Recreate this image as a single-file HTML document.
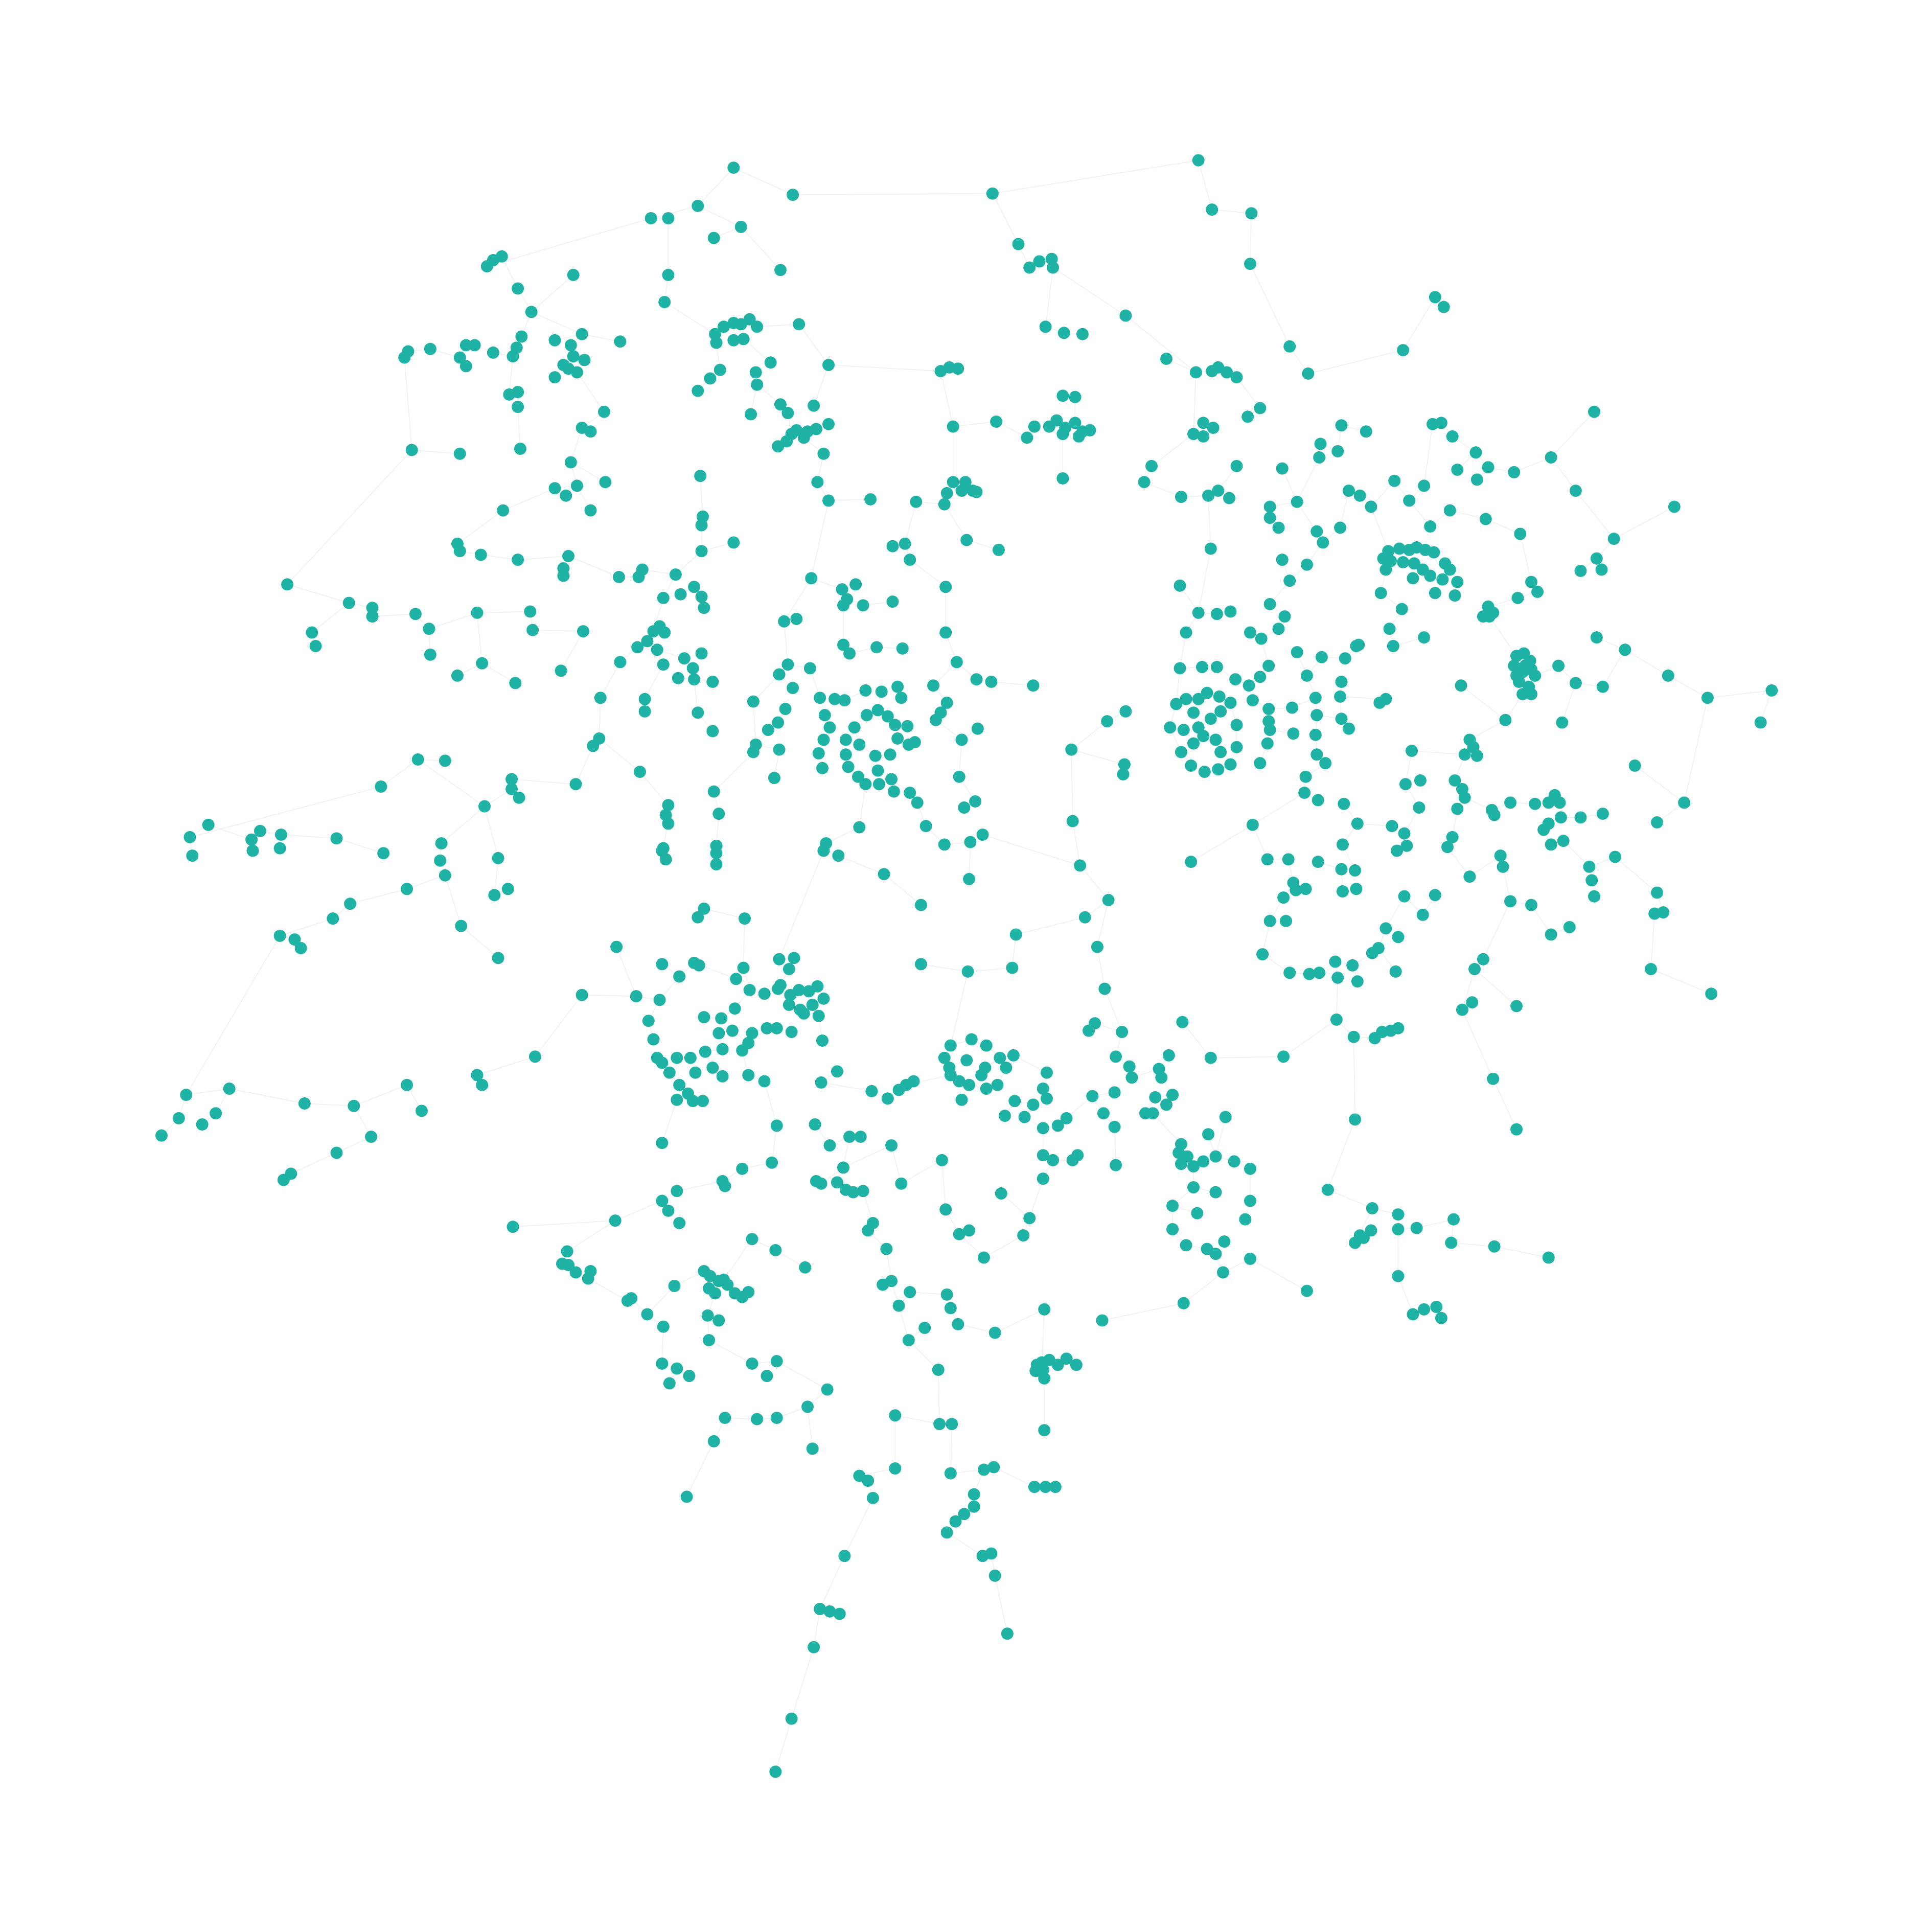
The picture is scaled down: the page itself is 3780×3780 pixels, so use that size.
<!DOCTYPE html>
<html><head><meta charset="utf-8">
<style>
html,body{margin:0;padding:0;background:#fff;}
svg{display:block;}
</style></head>
<body>
<svg id="chart" width="3780" height="3780" viewBox="0 0 3780 3780" xmlns="http://www.w3.org/2000/svg">
<rect width="3780" height="3780" fill="#ffffff"/>
<g id="edges"></g>
<g id="nodes"></g>
</svg>
<script>
const layoutUnits = 1567;
const nodeLayout = [
[595,136],[643,158],[566,167],[528,177],[542,177],[601,184],[579,193],[542,223],[539,245],[633,219],[805,157],[972,130],[983,170],[1015,173],[1014,214],[826,198],[835,217],[843,212],[853,210],[854,217],[913,256],[848,265],[863,270],[878,271],[1046,281],[1061,303],[1138,284],[1164,241],[1171,249],
[395,216],[400,211],[407,208],[420,234],[431,253],[465,223],[472,271],[450,276],[463,280],[465,289],[474,292],[457,296],[450,306],[468,302],[461,299],[503,277],[423,273],[419,282],[416,289],[400,286],[385,280],[378,280],[373,290],[378,297],[349,283],[331,285],[328,290],[413,320],[420,318],[420,330],[490,334],[472,347],[479,350],[463,375],[491,391],[468,394],[450,396],[459,402],[479,414],[408,414],[334,365],[373,368],[422,364],
[580,271],[587,265],[595,262],[601,263],[608,259],[614,265],[603,275],[595,276],[581,278],[625,294],[613,302],[614,312],[584,300],[576,307],[566,317],[609,336],[648,263],[672,296],[660,329],[633,328],[639,335],[642,352],[631,362],[638,358],[652,355],[646,349],[655,350],[662,348],[672,344],[668,368],[663,391],[672,406],
[763,301],[770,298],[777,299],[773,346],[808,342],[833,355],[839,346],[851,346],[857,341],[864,347],[872,343],[878,350],[884,349],[875,354],[862,352],[872,322],[862,321],[862,388],
[773,391],[783,391],[789,398],[768,400],[766,409],[780,398],[792,399],[706,405],[743,407],[784,438],[810,446],[734,441],[724,443],[738,454],[767,476],[767,513],[776,537],[658,469],[683,478],[694,474],[687,486],[700,491],[684,491],[724,488],[636,504],[646,502],[684,523],[689,530],[711,525],[732,526],[639,539],[632,547],[657,542],[665,566],[669,580],[677,567],[673,590],[685,568],[702,560],[715,561],[728,557],[731,566],[712,576],[703,580],[720,581],[726,588],[736,589],[693,590],[697,604],[686,600],[668,600],[664,611],[667,623],[686,612],[688,622],[696,630],[710,613],[722,612],[728,599],[737,604],[742,602],[712,625],[702,636],[713,636],[723,632],[738,643],[744,651],[725,642],[751,670],[766,685],[757,556],[768,570],[759,584],[763,578],[780,600],[793,591],[792,551],[804,553],[838,556],[778,630],[791,650],[782,655],[787,683],[797,677],[786,713],[697,671],[670,684],[668,690],[680,694],[717,709],
[970,302],[983,301],[988,298],[995,302],[1003,306],[968,352],[976,343],[984,347],[976,354],[1022,331],[1012,338],[946,291],[934,378],[928,391],[958,403],[980,402],[988,398],[997,404],[982,445],[1003,378],[972,497],[987,498],[998,496],[957,475],[962,513],
[957,542],[975,541],[987,541],[954,571],[949,590],[958,610],[966,621],[977,626],[988,624],[998,620],[1003,606],[1003,588],[998,570],[989,565],[979,562],[972,567],[962,567],[968,578],[960,592],[972,590],[982,583],[990,577],[986,600],[976,597],[990,610],[968,603],[1002,551],[1013,556],[1022,549],[1029,540],[1016,568],[1029,575],[1029,585],[1030,592],[1028,603],[1022,619],[1048,574],[1049,595],[1067,566],[1068,580],[1067,596],[1068,612],[1075,619],[1088,583],[1094,591],[1087,565],[1088,553],[1060,548],[1052,529],[1072,533],[1091,534],[1102,523],[1023,518],[1037,510],[1042,500],[1030,490],[1046,471],[1040,454],[1060,458],[1073,440],[1087,428],[1052,407],[1030,411],[1030,420],[1037,428],[1068,431],[1070,371],[1071,360],[1085,366],[1088,345],[1108,350],[1094,398],[1103,402],[1112,411],[1131,390],[1143,406],[1155,394],[1160,427],[1176,414],[1040,380],[1014,513],
[1126,447],[1135,445],[1143,446],[1149,444],[1156,446],[1163,448],[1172,457],[1176,462],[1170,470],[1160,467],[1154,462],[1147,457],[1138,456],[1128,455],[1122,453],[1124,462],[1146,469],[1164,481],[1182,472],[1180,483],[1120,481],[1137,494],[1127,510],[1130,524],[1100,524],[1155,517],[1162,344],[1169,343],[1178,354],[1197,367],[1207,379],[1182,381],[1198,389],[1205,421],[1228,383],[1258,371],[1233,433],[1242,472],[1247,480],[1231,485],[1278,398],[1293,334],[1207,492],[1211,497],[1203,500],[1208,500],[1309,437],[1295,453],[1299,462],[1282,463],[1358,411],
[1230,532],[1236,530],[1241,536],[1228,540],[1235,545],[1242,543],[1232,553],[1240,557],[1235,563],[1242,563],[1245,548],[1230,548],[1237,540],[1264,540],[1278,554],[1300,557],[1318,527],[1295,517],[1353,548],[1385,566],[1437,560],[1428,586],[1366,651],[1326,621],[1267,586],[1221,584],[1185,556],[1124,567],[1119,570],
[1192,600],[1195,606],[1198,613],[1188,612],[1145,609],[1140,636],[1152,633],[1180,633],[1186,640],[1188,647],[1182,656],[1178,679],[1174,687],[1151,655],[1139,676],[1141,686],[1133,690],[1129,670],[1101,668],[1089,685],[1099,706],[1088,705],[1089,723],[1100,721],[1069,699],[1059,630],[1058,643],[1069,649],[1090,652],[1016,669],[1028,697],[1045,697],[1049,716],[1041,728],[1051,722],[1059,721],[1030,747],[1043,747],[1024,774],[1046,789],[1062,790],[1070,789],[1083,780],[1097,783],[1085,793],[1101,796],[1113,773],[1118,769],[1124,753],[1134,760],[1132,788],[1139,727],[1154,742],[1164,726],[1192,711],[1210,657],[1212,661],[1225,651],[1245,652],[1256,651],[1261,645],[1265,651],[1266,663],[1256,668],[1252,673],[1258,685],[1268,682],[1282,663],[1300,660],[1217,694],[1219,703],[1225,731],[1242,734],[1258,758],[1273,752],[1289,703],[1291,714],[1293,727],[1310,695],[1344,667],[1344,724],[1349,740],[1342,741],[1339,786],[1388,806],[1203,778],[1196,786],[1230,816],[1186,819],[1194,813],[1211,875],[1230,916],
[1084,827],[1098,841],[1115,842],[1121,837],[1128,836],[1134,834],[1099,908],[1041,857],[982,858],[959,829],[966,699],[876,702],[870,666],[869,608],[912,620],[911,628],[898,585],[913,577],[899,730],[890,768],[880,744],[896,802],[910,837],[888,830],[883,836],[824,758],[821,785],[785,788],[747,782],[747,734],
[771,848],[788,843],[800,848],[811,858],[822,856],[816,866],[809,880],[800,883],[786,880],[778,877],[771,872],[766,858],[770,866],[784,860],[799,866],[796,872],[780,892],[849,870],[846,883],[849,891],[838,896],[823,893],[815,905],[831,906],[846,915],[858,913],[865,907],[886,889],[904,886],[895,903],[904,914],[846,937],[854,941],[846,956],[870,941],[874,937],[905,945],[905,857],[916,865],[918,874],[940,867],[948,856],[942,874],[951,888],[937,890],[929,903],[935,903],[946,896],[958,928],[963,938],[958,944],[968,946],[956,935],[976,942],[986,938],[994,906],[1001,942],[980,920],[968,963],[986,967],[1014,948],[951,978],[971,984],[1014,974],[1010,989],[951,997],[962,1010],[979,1013],[986,1017],[993,1007],[992,1032],[1014,1021],[1060,1047],[960,1057],[894,1071],
[1077,965],[1113,980],[1099,1008],[1106,1004],[1112,998],[1103,1002],[1134,985],[1134,997],[1149,996],[1179,989],[1177,1008],[1212,1011],[1256,1020],[1134,1035],[1146,1066],[1155,1062],[1165,1060],[1169,1069],
[835,988],[830,1002],[798,1020],[778,1001],[786,998],[812,968],[767,981],[764,941],[731,960],[723,929],[735,880],[741,877],[729,884],[720,891],[707,885],[684,947],[689,922],[698,922],[673,929],[666,960],[679,959],[686,965],[692,967],[700,966],[662,958],[708,992],[704,998],[719,1013],[723,1039],[716,1042],[729,1059],[738,1048],[737,1087],[750,1077],[768,1050],[771,1061],[777,1074],[761,1111],[807,1081],[762,1155],[772,1155],[726,1148],[726,1191],[771,1195],[798,1192],[806,1190],[790,1212],[790,1222],[782,1228],[775,1234],[768,1243],[797,1262],[804,1260],[807,1278],[817,1325],[697,1197],[704,1201],[708,1215],[685,1262],[665,1305],[673,1307],[681,1309],[660,1336],[642,1394],[629,1437],
[847,1062],[845,1105],[851,1103],[858,1107],[865,1102],[873,1107],[840,1112],[846,1111],[847,1118],[841,1107],[847,1160],[839,1206],[848,1206],[856,1206],
[632,778],[644,777],[640,786],[633,799],[641,807],[648,803],[656,804],[663,800],[668,810],[659,815],[649,819],[640,815],[652,822],[664,824],[631,802],[620,806],[608,803],[603,785],[597,794],[596,818],[585,826],[571,825],[583,838],[594,836],[607,846],[602,852],[610,838],[622,834],[630,834],[642,837],[586,851],[572,853],[560,858],[549,858],[537,862],[543,870],[551,880],[564,870],[578,866],[586,873],[607,872],[620,877],[666,878],[679,869],[667,844],[563,781],[567,783],[604,745],[571,737],[566,744],[551,792],[535,811],[516,808],[526,828],[530,843],[533,858],[558,887],[562,893],[570,893],[549,892],[537,927],[630,913],[661,912],[626,943],[602,948],[586,958],[588,962],[549,966],[537,974],[542,982],[551,992],[500,768],[537,782],[472,807],[434,857],
[499,990],[416,995],[460,1015],[461,1026],[467,1032],[456,1025],[479,1031],[477,1037],[509,1055],[512,1053],[525,1066],[538,1076],[547,1043],[571,1031],[576,1035],[587,1038],[575,1045],[590,1042],[596,1049],[602,1052],[607,1048],[580,1049],[583,1039],[610,1005],[629,1014],[653,1028],[574,1067],[575,1087],[583,1071],[610,1106],[630,1104],[622,1116],[671,1127],[655,1141],[659,1175],[630,1150],[614,1151],[588,1150],[579,1169],[557,1214],[537,1106],[549,1110],[559,1116],[543,1122],
[233,474],[283,489],[302,493],[302,500],[253,513],[256,524],[337,498],[348,510],[349,531],[387,497],[430,496],[432,511],[473,512],[391,538],[371,548],[418,554],[455,544],[371,441],[373,447],[390,450],[420,454],[461,451],[457,461],[457,467],[502,468],[518,468],[521,462],[548,466],[538,485],[552,482],[563,476],[569,484],[571,493],[569,447],[569,426],[570,419],[568,386],[595,440],[530,512],[535,508],[539,513],[525,520],[517,525],[503,537],[533,527],[555,534],[569,530],[562,542],[563,551],[578,553],[538,539],[550,550],[487,566],[523,567],[523,577],[566,578],[578,593],[611,569],[613,604],[611,610],[631,586],[632,608],[623,592],[637,575],[643,558],[628,631],[486,599],[481,605],[519,626],[467,636],[415,632],[415,640],[421,647],[393,654],[339,616],[361,617],[309,638],[579,642],[583,660],[542,653],[540,661],[542,668],[537,690],[540,697],[538,688],[581,686],[581,692],[581,701],
[154,679],[169,669],[156,694],[204,681],[211,674],[228,677],[227,688],[205,690],[273,680],[311,692],[358,684],[357,698],[361,710],[330,721],[284,733],[270,745],[227,759],[239,762],[244,769],[374,751],[404,696],[401,726],[412,721],[404,777],
[151,888],[186,883],[175,903],[145,907],[131,921],[164,912],[247,895],[287,897],[330,880],[342,901],[387,872],[391,880],[301,922],[273,935],[236,952],[230,957]
];
const W = 3780;
function sx(v){ return v * W / layoutUnits; }
function sy(v){ return v * W / layoutUnits; }
const NS = "http://www.w3.org/2000/svg";
const eg = document.getElementById('edges');
const ng = document.getElementById('nodes');
for (let i = 1; i < nodeLayout.length; i++) {
  let best = -1, bd = Infinity;
  for (let j = 0; j < i; j++) {
    const dx = nodeLayout[i][0]-nodeLayout[j][0], dy = nodeLayout[i][1]-nodeLayout[j][1];
    const d = dx*dx+dy*dy;
    if (d < bd) { bd = d; best = j; }
  }
  const l = document.createElementNS(NS,'line');
  l.setAttribute('x1', sx(nodeLayout[i][0])); l.setAttribute('y1', sy(nodeLayout[i][1]));
  l.setAttribute('x2', sx(nodeLayout[best][0])); l.setAttribute('y2', sy(nodeLayout[best][1]));
  l.setAttribute('stroke', '#efefef'); l.setAttribute('stroke-width', '1.5');
  
  
  eg.appendChild(l);
}
for (let i = 0; i < nodeLayout.length; i++) {
  const c = document.createElementNS(NS,'circle');
  c.setAttribute('cx', sx(nodeLayout[i][0]));
  c.setAttribute('cy', sy(nodeLayout[i][1]));
  c.setAttribute('r', 12);
  c.setAttribute('fill', '#1fb3a6');
  
  
  ng.appendChild(c);
}
</script>
</body></html>
